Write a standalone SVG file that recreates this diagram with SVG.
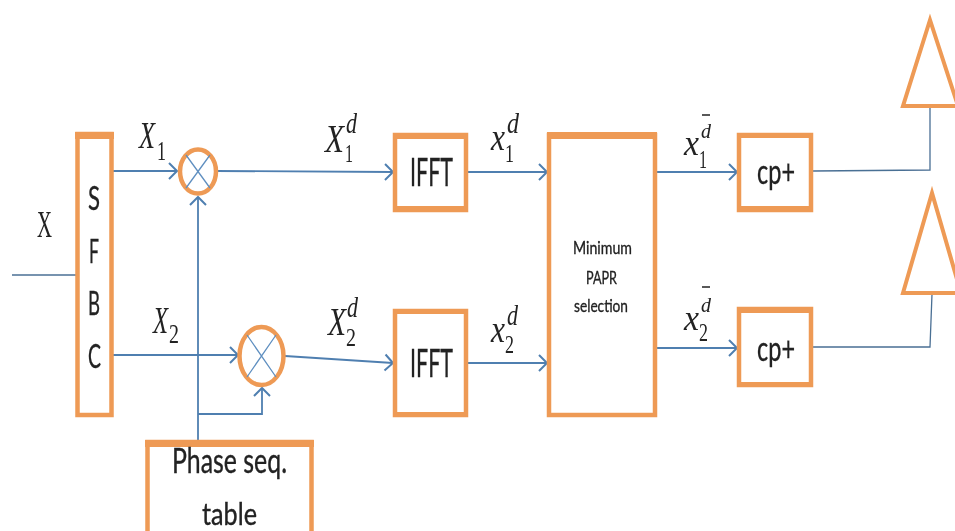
<svg xmlns="http://www.w3.org/2000/svg" width="955" height="531" viewBox="0 0 955 531">
<style>
.box{fill:#fff;stroke:#ee9a55;stroke-width:4.5}
.bar{fill:#ee9a55}
.ring{fill:none;stroke:#ee9a55;stroke-width:4.5}
.cross{stroke:#5f8fc0;stroke-width:1.3;fill:none}
.tri{fill:#fff;stroke:#ee9a55;stroke-width:4;stroke-linejoin:miter}
.c{fill:none;stroke:#4f7fb0;stroke-width:1.8}
.t{stroke:#4a6f94;stroke-width:1.3;fill:none}
.a{marker-end:url(#arr)}
.s{font-family:Lato,"Open Sans",sans-serif;fill:#222;stroke:#222;stroke-width:.35}
.m{font-family:"Liberation Serif",serif;font-style:italic;fill:#222}
.r{font-family:"Liberation Serif",serif;fill:#222}
.ov{stroke:#222;stroke-width:1.5}
</style>
<defs>
<filter id="soft" x="-2%" y="-2%" width="104%" height="104%"><feGaussianBlur stdDeviation="0.45"/></filter>
<marker id="arr" markerUnits="userSpaceOnUse" markerWidth="14" markerHeight="18" refX="11" refY="8" orient="auto" overflow="visible">
<path d="M3 0L11 8L3 16" fill="none" stroke="#4f7fb0" stroke-width="2"/>
</marker>
</defs>
<rect width="955" height="531" fill="#fff"/>
<g filter="url(#soft)">
<g id="connectors">
<path class="t" d="M12 275H76"/>
<path class="c a" d="M113 171H177"/>
<path class="c a" d="M113 355H238"/>
<path class="c a" d="M198 440V197"/>
<path class="c a" d="M198 414H262V388"/>
<path class="c a" d="M217 171L393 172"/>
<path class="c a" d="M285 356L393 363"/>
<path class="c a" d="M467 172H547"/>
<path class="c a" d="M467 363H547"/>
<path class="c a" d="M657 172H737"/>
<path class="c a" d="M657 348H737"/>
<path class="t" d="M813 171L930 170V107"/>
<path class="t" d="M813 347H930L932 294"/>
</g>
<g id="sfbc">
<rect class="box" x="77.500" y="134" width="34" height="281"/>
<rect class="bar" x="75" y="132" width="39" height="7"/>
<text class="s" font-size="33" x="88" y="210" textLength="12" lengthAdjust="spacingAndGlyphs">S</text>
<text class="s" font-size="33" x="89" y="263" textLength="10" lengthAdjust="spacingAndGlyphs">F</text>
<text class="s" font-size="33" x="88" y="315" textLength="12" lengthAdjust="spacingAndGlyphs">B</text>
<text class="s" font-size="33" x="88" y="368" textLength="13" lengthAdjust="spacingAndGlyphs">C</text>
</g>
<g id="mixer1">
<ellipse class="ring" cx="198" cy="171.5" rx="18" ry="22"/>
<path class="cross" d="M186 155L210 188M210 155L186 188"/>
</g>
<g id="mixer2">
<ellipse class="ring" cx="261.500" cy="356" rx="22" ry="29"/>
<path class="cross" d="M247 335L276 377M276 335L247 377"/>
</g>
<g id="phase">
<rect class="box" x="147.500" y="442" width="164" height="95"/>
<rect class="bar" x="145" y="440" width="169" height="7"/>
<text class="s" font-size="34" x="172" y="473" textLength="115" lengthAdjust="spacingAndGlyphs">Phase seq.</text>
<text class="s" font-size="30" x="202" y="525" textLength="55" lengthAdjust="spacingAndGlyphs">table</text>
</g>
<g id="ifft1">
<rect class="box" x="395" y="135" width="71" height="75"/>
<rect class="bar" x="393" y="133" width="75" height="6"/>
<rect class="bar" x="393" y="206" width="75" height="6"/>
<text class="s" font-size="38" x="410" y="186" textLength="43" lengthAdjust="spacingAndGlyphs">IFFT</text>
</g>
<g id="ifft2">
<rect class="box" x="395" y="311" width="71" height="104"/>
<rect class="bar" x="393" y="309" width="75" height="5"/>
<rect class="bar" x="393" y="412" width="75" height="5"/>
<text class="s" font-size="38" x="410" y="377" textLength="43" lengthAdjust="spacingAndGlyphs">IFFT</text>
</g>
<g id="selection">
<rect class="box" x="549" y="135" width="106" height="280"/>
<rect class="bar" x="547" y="132" width="110" height="7"/>
<text class="s" font-size="18" x="573" y="254" textLength="59" lengthAdjust="spacingAndGlyphs">Minimum</text>
<text class="s" font-size="18" x="586" y="284" textLength="31" lengthAdjust="spacingAndGlyphs">PAPR</text>
<text class="s" font-size="18" x="574" y="312" textLength="54" lengthAdjust="spacingAndGlyphs">selection</text>
</g>
<g id="cp1">
<rect class="box" x="739" y="135" width="72" height="75"/>
<rect class="bar" x="737" y="133" width="76" height="5"/>
<rect class="bar" x="737" y="206" width="76" height="6"/>
<text class="s" font-size="34" x="757" y="184" textLength="38" lengthAdjust="spacingAndGlyphs">cp+</text>
</g>
<g id="cp2">
<rect class="box" x="739" y="309" width="72" height="76"/>
<rect class="bar" x="737" y="307" width="76" height="6"/>
<rect class="bar" x="737" y="382" width="76" height="5"/>
<text class="s" font-size="34" x="757" y="361" textLength="38" lengthAdjust="spacingAndGlyphs">cp+</text>
</g>
<g id="antenna1"><path class="tri" d="M930 20L903 106H958Z"/></g>
<g id="antenna2"><path class="tri" d="M932 193L903 293H961Z"/></g>
<g id="labels">
<text class="r" font-size="38" x="37" y="237" textLength="15" lengthAdjust="spacingAndGlyphs">X</text>
<text class="m" font-size="38" x="139" y="148" textLength="16" lengthAdjust="spacingAndGlyphs">X</text>
<text class="r" font-size="28" x="157" y="160" textLength="9" lengthAdjust="spacingAndGlyphs">1</text>
<text class="m" font-size="38" x="153" y="333" textLength="15" lengthAdjust="spacingAndGlyphs">X</text>
<text class="r" font-size="28" x="169" y="343" textLength="10" lengthAdjust="spacingAndGlyphs">2</text>
<text class="m" font-size="40" x="325" y="152" textLength="19" lengthAdjust="spacingAndGlyphs">X</text>
<text class="m" font-size="30" x="346" y="133" textLength="11" lengthAdjust="spacingAndGlyphs">d</text>
<text class="r" font-size="25" x="345" y="162" textLength="8" lengthAdjust="spacingAndGlyphs">1</text>
<text class="m" font-size="40" x="328" y="335" textLength="18" lengthAdjust="spacingAndGlyphs">X</text>
<text class="m" font-size="30" x="347" y="317" textLength="11" lengthAdjust="spacingAndGlyphs">d</text>
<text class="r" font-size="25" x="346" y="346" textLength="10" lengthAdjust="spacingAndGlyphs">2</text>
<text class="m" font-size="38" x="491" y="150" textLength="14" lengthAdjust="spacingAndGlyphs">x</text>
<text class="m" font-size="30" x="507" y="133" textLength="12" lengthAdjust="spacingAndGlyphs">d</text>
<text class="r" font-size="25" x="505" y="162" textLength="9" lengthAdjust="spacingAndGlyphs">1</text>
<text class="m" font-size="38" x="491" y="342" textLength="14" lengthAdjust="spacingAndGlyphs">x</text>
<text class="m" font-size="30" x="507" y="325" textLength="11" lengthAdjust="spacingAndGlyphs">d</text>
<text class="r" font-size="25" x="505" y="353" textLength="9" lengthAdjust="spacingAndGlyphs">2</text>
<text class="m" font-size="36" x="684" y="155" textLength="15" lengthAdjust="spacingAndGlyphs">x</text>
<text class="m" font-size="22" x="701" y="138" textLength="10" lengthAdjust="spacingAndGlyphs">d</text>
<path class="ov" d="M702 115H710"/>
<text class="r" font-size="26" x="699" y="168" textLength="8" lengthAdjust="spacingAndGlyphs">1</text>
<text class="m" font-size="36" x="684" y="330" textLength="15" lengthAdjust="spacingAndGlyphs">x</text>
<text class="m" font-size="22" x="701" y="312" textLength="10" lengthAdjust="spacingAndGlyphs">d</text>
<path class="ov" d="M702 287H710"/>
<text class="r" font-size="26" x="699" y="341" textLength="9" lengthAdjust="spacingAndGlyphs">2</text>
</g>
</g>
</svg>
